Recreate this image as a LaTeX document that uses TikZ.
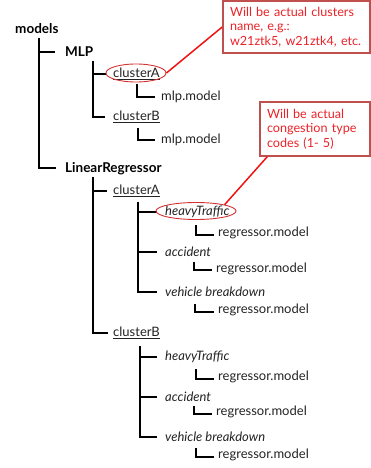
\documentclass[tikz,border=0pt]{standalone}
\usepackage{fontspec}
\setmainfont{Lato}
\usetikzlibrary{shapes.geometric}
\definecolor{boxred}{RGB}{192,80,77}
\definecolor{callred}{RGB}{235,35,40}
\definecolor{linered}{RGB}{238,20,20}
\definecolor{ellred}{RGB}{210,50,50}
\definecolor{txt}{RGB}{35,35,35}
\begin{document}
\begin{tikzpicture}[x=1pt,y=-1pt,
  tree/.style={line width=2pt, black},
  lbl/.style={anchor=west, inner sep=0pt, font=\fontsize{13}{15}\selectfont, text=txt},
  boldlbl/.style={anchor=west, inner sep=0pt, font=\fontsize{13.5}{15}\selectfont\bfseries, text=black},
  catlbl/.style={lbl, font=\fontsize{13}{15}\selectfont\itshape},
  ell/.style={ellipse, draw=ellred, line width=0.9pt, inner sep=0pt},
  callbox/.style={rectangle, draw=boxred, line width=1.6pt, fill=white, align=left,
    text=callred, font=\fontsize{12.6}{14.5}\selectfont, inner xsep=7pt, inner ysep=4pt},
  callline/.style={linered, line width=1.5pt}]
\useasboundingbox (0,0) rectangle (371,468);

% labels
\node[boldlbl] (models) at (15,29) {models};
\node[boldlbl] (MLP) at (65,52) {MLP};
\node[lbl] (mlpA) at (113,74) {\underline{clusterA}};
\node[lbl] (mlpAm) at (161,97) {mlp.model};
\node[lbl] (mlpB) at (113,117) {\underline{clusterB}};
\node[lbl] (mlpBm) at (161,140) {mlp.model};
\node[boldlbl] (LR) at (65,169) {LinearRegressor};
\node[lbl] (lrA) at (113,191) {\underline{clusterA}};
\node[catlbl] (lrAh) at (165,212) {heavyTraffic};
\node[lbl] (lrAhm) at (218,233) {regressor.model};
\node[catlbl] (lrAa) at (165,252) {accident};
\node[lbl] (lrAam) at (216,269) {regressor.model};
\node[catlbl] (lrAv) at (165,292) {vehicle breakdown};
\node[lbl] (lrAvm) at (218,310) {regressor.model};
\node[lbl] (lrB) at (113,333) {\underline{clusterB}};
\node[catlbl] (lrBh) at (165,357) {heavyTraffic};
\node[lbl] (lrBhm) at (218,377) {regressor.model};
\node[catlbl] (lrBa) at (165,397) {accident};
\node[lbl] (lrBam) at (216,412) {regressor.model};
\node[catlbl] (lrBv) at (165,437) {vehicle breakdown};
\node[lbl] (lrBvm) at (218,455) {regressor.model};

% branch tops
\coordinate (vmodels) at (39,38);
\coordinate (vMLP) at (93,61);
\coordinate (vmlpA) at (137,84);
\coordinate (vmlpB) at (138,128);
\coordinate (vLR) at (93,177);
\coordinate (vlrA) at (138,202);
\coordinate (vlrAh) at (196,225);
\coordinate (vlrAa) at (194,262);
\coordinate (vlrAv) at (195,304);
\coordinate (vlrB) at (140,346);
\coordinate (vlrBh) at (196,369);
\coordinate (vlrBa) at (194,406);
\coordinate (vlrBv) at (196,448);

% tree connectors
\draw[tree] (vmodels) |- ([xshift=-10pt]MLP.west);
\draw[tree] (vmodels) |- ([xshift=-9pt,yshift=1pt]LR.west);
\draw[tree] (vMLP) |- ([xshift=-7pt]mlpA.west);
\draw[tree] (vMLP) |- ([xshift=-8pt]mlpB.west);
\draw[tree] (vmlpA) |- ([xshift=-6pt]mlpAm.west);
\draw[tree] (vmlpB) |- ([xshift=-6pt]mlpBm.west);
\draw[tree] (vLR) |- ([xshift=-6pt]lrA.west);
\draw[tree] (vLR) |- ([xshift=-5pt]lrB.west);
\draw[tree] (vlrA) |- ([xshift=-8pt]lrAh.west);
\draw[tree] (vlrA) |- ([xshift=-8pt]lrAa.west);
\draw[tree] (vlrA) |- ([xshift=-8pt]lrAv.west);
\draw[tree] (vlrAh) |- ([xshift=-4pt,yshift=-2pt]lrAhm.west);
\draw[tree] (vlrAa) |- ([xshift=-4pt,yshift=-1pt]lrAam.west);
\draw[tree] (vlrAv) |- ([xshift=-4pt,yshift=-2pt]lrAvm.west);
\draw[tree] (vlrB) |- ([xshift=-8pt]lrBh.west);
\draw[tree] (vlrB) |- ([xshift=-8pt]lrBa.west);
\draw[tree] (vlrB) |- ([xshift=-8pt]lrBv.west);
\draw[tree] (vlrBh) |- ([xshift=-4pt,yshift=-2pt]lrBhm.west);
\draw[tree] (vlrBa) |- ([xshift=-4pt,yshift=-2pt]lrBam.west);
\draw[tree] (vlrBv) |- ([xshift=-4pt,yshift=-2pt]lrBvm.west);

% highlight ellipses
\node[ell, minimum width=60pt, minimum height=18pt] (e1) at (136,73) {};
\node[ell, minimum width=80pt, minimum height=17pt] (e2) at (196,211) {};

% callouts
\node[callbox, text width=133pt, minimum height=52pt] (box1) at (296.5,27)
  {Will be actual clusters\\name, e.g.:\\w21ztk5, w21ztk4, etc.};
\node[callbox, text width=96pt, minimum height=54pt] (box2) at (315,129)
  {Will be actual\\congestion type\\codes (1- 5)};

\draw[callline] (e1.east) -- (box1.west);
\draw[callline] (e2.north east) -- ([xshift=8pt]box2.south west);
\end{tikzpicture}
\end{document}
